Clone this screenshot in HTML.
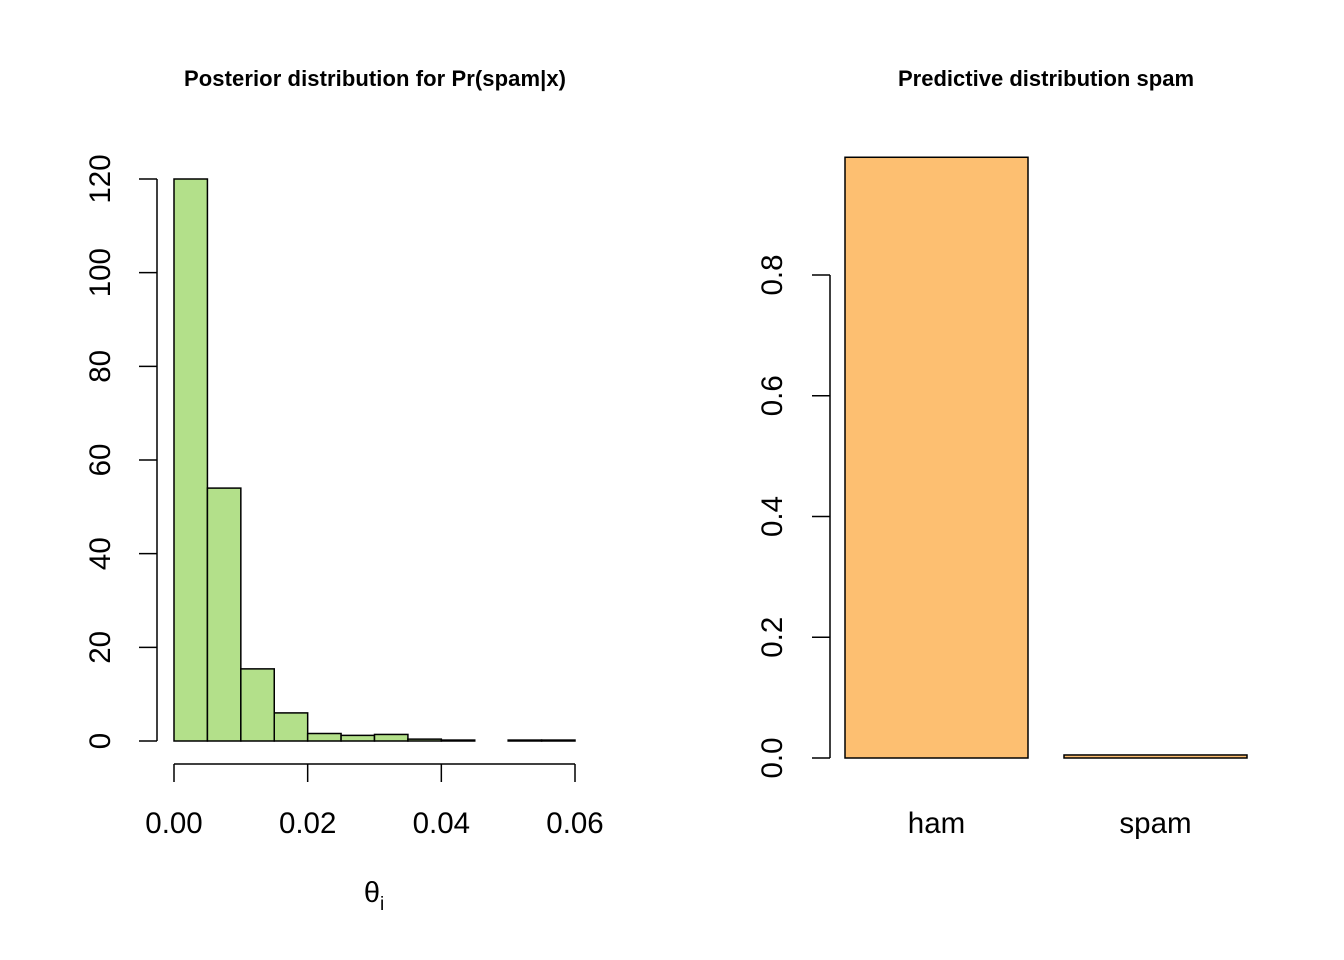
<!DOCTYPE html>
<html><head><meta charset="utf-8"><style>
body{margin:0;background:#fff}
svg{display:block;font-family:"Liberation Sans",Arial,sans-serif}
</style></head><body>
<svg width="1344" height="960" viewBox="0 0 1344 960">
<text x="375" y="86" text-anchor="middle" font-size="22" font-weight="bold" textLength="382">Posterior distribution for Pr(spam|x)</text>
<text x="1046" y="86" text-anchor="middle" font-size="22" font-weight="bold" textLength="296">Predictive distribution spam</text>
<g id="hist"></g>
<g id="bars"></g>
<text x="374" y="902" text-anchor="middle" font-size="29">θ<tspan font-size="19" dy="8">i</tspan></text>
</svg>
<script>
const histBins=[0,0.005,0.01,0.015,0.02,0.025,0.03,0.035,0.04,0.045,0.05,0.055,0.06];
const histValues=[120,54,15.4,6,1.6,1.2,1.4,0.4,0.2,0,0.2,0.2];
const histXTicks=[0,0.02,0.04,0.06];
const histXTickLabels=["0.00","0.02","0.04","0.06"];
const histYTicks=[0,20,40,60,80,100,120];
const barCats=["ham","spam"];
const barValues=[0.995,0.005];
const barYTicks=[0,0.2,0.4,0.6,0.8];
const barYTickLabels=["0.0","0.2","0.4","0.6","0.8"];
const NS="http://www.w3.org/2000/svg";
function mk(p,t,a){const e=document.createElementNS(NS,t);for(const k in a)e.setAttribute(k,a[k]);p.appendChild(e);return e;}
const hx=v=>174+(v-0)/0.06*401, hy=v=>741-v*(562/120);
const H=document.getElementById('hist');
for(let i=0;i<histValues.length;i++){
 const r=mk(H,'rect',{x:hx(histBins[i]),y:hy(histValues[i]),width:hx(histBins[i+1])-hx(histBins[i]),height:hy(0)-hy(histValues[i]),fill:'#b3e08a',stroke:'#000','stroke-width':1.5});
 
 
}
mk(H,'line',{x1:hx(0),x2:hx(0.06),y1:764,y2:764,stroke:'#000','stroke-width':1.5});
histXTicks.forEach((t,i)=>{mk(H,'line',{x1:hx(t),x2:hx(t),y1:764,y2:782,stroke:'#000','stroke-width':1.5});
 const tx=mk(H,'text',{x:hx(t),y:833,'text-anchor':'middle','font-size':29.5});tx.textContent=histXTickLabels[i];
 
 });
mk(H,'line',{x1:157,x2:157,y1:hy(0),y2:hy(120),stroke:'#000','stroke-width':1.5});
histYTicks.forEach(t=>{mk(H,'line',{x1:139,x2:157,y1:hy(t),y2:hy(t),stroke:'#000','stroke-width':1.5});
 const tx=mk(H,'text',{x:0,y:0,'text-anchor':'middle','font-size':29.5,transform:`translate(110,${hy(t)}) rotate(-90)`});tx.textContent=t;
 
 });
const by=v=>758-v*603.75;
const barX=[845,1064], bw=183;
const B=document.getElementById('bars');
barValues.forEach((v,i)=>{
 const r=mk(B,'rect',{x:barX[i],y:by(v),width:bw,height:by(0)-by(v),fill:'#fdbf71',stroke:'#000','stroke-width':1.5});
 
 
 const tx=mk(B,'text',{x:barX[i]+bw/2,y:833,'text-anchor':'middle','font-size':29.5});tx.textContent=barCats[i];
 
 
});
mk(B,'line',{x1:830,x2:830,y1:by(0),y2:by(0.8),stroke:'#000','stroke-width':1.5});
barYTicks.forEach((t,i)=>{mk(B,'line',{x1:812,x2:830,y1:by(t),y2:by(t),stroke:'#000','stroke-width':1.5});
 const tx=mk(B,'text',{x:0,y:0,'text-anchor':'middle','font-size':29.5,transform:`translate(782,${by(t)}) rotate(-90)`});tx.textContent=barYTickLabels[i];
 
 });
</script>
</body></html>
